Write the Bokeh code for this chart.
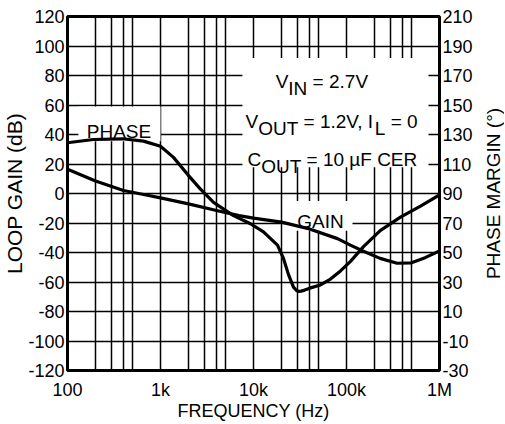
from bokeh.plotting import figure
from bokeh.layouts import row
from bokeh.models import (Range1d, LinearAxis, FixedTicker, CustomJSTickFormatter,
                          BoxAnnotation, Label, Title)
from bokeh.embed import file_html
from bokeh.resources import INLINE

# ---------------- data ----------------
freq_gain = [100, 200, 400, 700, 1000, 2000, 4000, 7000, 10000, 20000, 40000,
             80000, 110000, 150000, 230000, 350000, 500000, 700000, 1000000]
gain_db = [16.5, 8.5, 2.0, -1.0, -3.0, -7.0, -11.5, -15.0, -16.7, -19.4, -24.0,
           -30.6, -35.0, -39.0, -44.0, -47.3, -47.0, -43.5, -39.0]

freq_phase = [100, 190, 390, 656, 1000, 1380, 1950, 2690, 3720, 6090, 9280,
              12800, 18100, 21000, 23800, 26900, 29000, 30500, 32500, 35500,
              41000, 52500, 67300, 86200, 110400, 152300, 232100, 380700,
              624800, 1000000]
phase_deg = [124.4, 126.6, 127.1, 125.5, 122.0, 114.5, 103.0, 93.0, 84.0, 75.0,
             69.5, 64.0, 55.0, 46.0, 35.0, 26.5, 24.2, 23.6, 23.8, 24.5,
             26.0, 28.0, 32.0, 37.5, 44.0, 54.0, 65.0, 74.0, 81.5, 89.0]

x_tick_values = [100, 1000, 10000, 100000, 1000000]
x_tick_labels = ["100", "1k", "10k", "100k", "1M"]
x_minor_multipliers = [2, 3, 4, 5]
y_left_ticks = list(range(-120, 121, 20))
y_right_ticks = list(range(-30, 211, 20))

title_x = "FREQUENCY (Hz)"
title_left = "LOOP GAIN (dB)"
title_right = "PHASE MARGIN (°)"

# ---------------- styling ----------------
FONT = "Liberation Sans"
TICK = "18px"
AXL = "18px"
ANN = 19
LW = 3.2
GW = 1.5

p = figure(width=480, height=423, x_axis_type="log", x_range=(100, 1e6),
           y_range=(-120, 120), output_backend="svg", toolbar_location=None,
           min_border_left=67, min_border_right=41, min_border_top=16,
           min_border_bottom=50)
p.extra_y_ranges = {"phase": Range1d(-30, 210)}
ax_r = LinearAxis(y_range_name="phase")
p.add_layout(ax_r, "right")

p.background_fill_color = "white"
p.border_fill_color = "white"
p.outline_line_color = "black"
p.outline_line_width = 3
p.outline_line_alpha = 1

minor = [d * m for d in x_tick_values[:-1] for m in x_minor_multipliers]
p.xaxis.ticker = FixedTicker(ticks=x_tick_values, minor_ticks=minor)
mapping = "{" + ",".join(f"{v}:'{l}'" for v, l in zip(x_tick_values, x_tick_labels)) + "}"
p.xaxis.formatter = CustomJSTickFormatter(
    code=f"const m = {mapping}; const k = Math.round(tick); return (k in m) ? m[k] : '';")
p.yaxis[0].ticker = FixedTicker(ticks=y_left_ticks)
ax_r.ticker = FixedTicker(ticks=y_right_ticks)
plain = "return Math.round(tick).toString();"
p.yaxis[0].formatter = CustomJSTickFormatter(code=plain)
ax_r.formatter = CustomJSTickFormatter(code=plain)

p.xaxis.axis_label = title_x

for ax in [p.xaxis[0], p.yaxis[0], ax_r]:
    ax.axis_line_color = None
    ax.major_tick_line_color = None
    ax.minor_tick_line_color = None
    ax.major_tick_out = 0
    ax.minor_tick_out = 0
    ax.major_label_text_font = FONT
    ax.major_label_text_font_size = TICK
    ax.major_label_text_color = "black"
    ax.axis_label_text_font = FONT
    ax.axis_label_text_font_size = AXL
    ax.axis_label_text_font_style = "normal"
    ax.axis_label_text_color = "black"
p.yaxis[0].major_label_standoff = 3
ax_r.major_label_standoff = 3
p.xaxis[0].major_label_standoff = 9
p.xaxis[0].axis_label_standoff = -2

# left title as a side-panel title (sits a little below centre, as in the reference)
p.add_layout(Title(text=title_left, align="center", offset=-31, standoff=0,
                   text_font=FONT, text_font_size="21px", text_font_style="normal",
                   text_color="black"), "left")

p.xgrid.grid_line_color = "black"
p.xgrid.grid_line_width = GW
p.xgrid.minor_grid_line_color = "black"
p.xgrid.minor_grid_line_width = GW
p.ygrid.grid_line_color = "black"
p.ygrid.grid_line_width = GW
p.xgrid.level = "image"
p.ygrid.level = "image"

# white backgrounds behind the in-plot texts (hide the grid there)
for (l, r, b, t) in [(131, 1000, 35.5, 59.0),
                     (7600, 762000, 17.8, 91.8),
                     (22600, 116000, -25.2, -5.0)]:
    p.add_layout(BoxAnnotation(left=l, right=r, bottom=b, top=t,
                               fill_color="white", fill_alpha=1.0,
                               line_color=None, level="underlay"))

p.line(freq_gain, gain_db, line_color="black", line_width=LW, line_join="round")
p.line(freq_phase, phase_deg, y_range_name="phase", line_color="black",
       line_width=LW, line_join="round")

# ---------------- texts ----------------
W = {' ': .278, '=': .584, '.': .278, ',': .278, 'V': .667, 'I': .278, 'N': .722,
     'O': .778, 'U': .722, 'T': .611, 'L': .556, 'C': .722, 'µ': .576, 'F': .611,
     'E': .667, 'R': .722}


def tw(s):
    return sum(W.get(c, .556) for c in s) * ANN


SUB_DROP = 4.7  # dB (about 7 px)


def add_line(f0, base, pieces):
    off = 0.0
    for txt, sub in pieces:
        stripped = txt.lstrip(" ")
        off += tw(txt[:len(txt) - len(stripped)])
        p.add_layout(Label(x=f0, y=base - SUB_DROP if sub else base, x_offset=off,
                           text=stripped, text_font=FONT, text_font_size=f"{ANN}px",
                           text_color="black", text_align="left",
                           text_baseline="alphabetic"))
        off += tw(stripped)


add_line(17300, 75.6, [("V", False), ("IN", True), (" = 2.7V", False)])
add_line(8200, 48.7, [("V", False), ("OUT", True), (" = 1.2V, I", False),
                      ("L", True), (" = 0", False)])
add_line(8600, 23.2, [("C", False), ("OUT", True), (" = 10 µF CER", False)])

p.add_layout(Label(x=358, y=42, text="PHASE", text_font=FONT,
                   text_font_size=f"{ANN}px", text_align="center",
                   text_baseline="alphabetic", text_color="black"))
p.add_layout(Label(x=52500, y=-19.2, text="GAIN", text_font=FONT,
                   text_font_size=f"{ANN}px", text_align="center",
                   text_baseline="alphabetic", text_color="black"))

# ---------------- right-hand title (a narrow strip so it reads bottom-to-top) ----------------
q = figure(width=24, height=423, output_backend="svg", toolbar_location=None,
           min_border_left=0, min_border_right=0, min_border_top=0,
           min_border_bottom=0, x_range=(0, 1), y_range=(0, 1))
q.xaxis.visible = False
q.yaxis.visible = False
q.xgrid.visible = False
q.ygrid.visible = False
q.outline_line_color = None
q.background_fill_color = "white"
q.border_fill_color = "white"
q.add_layout(Title(text=title_right, align="center", offset=19, standoff=0,
                   text_font=FONT, text_font_size="19px", text_font_style="normal",
                   text_color="black"), "left")

layout = row(p, q, spacing=0)
open("out.html", "w").write(file_html(layout, INLINE))
